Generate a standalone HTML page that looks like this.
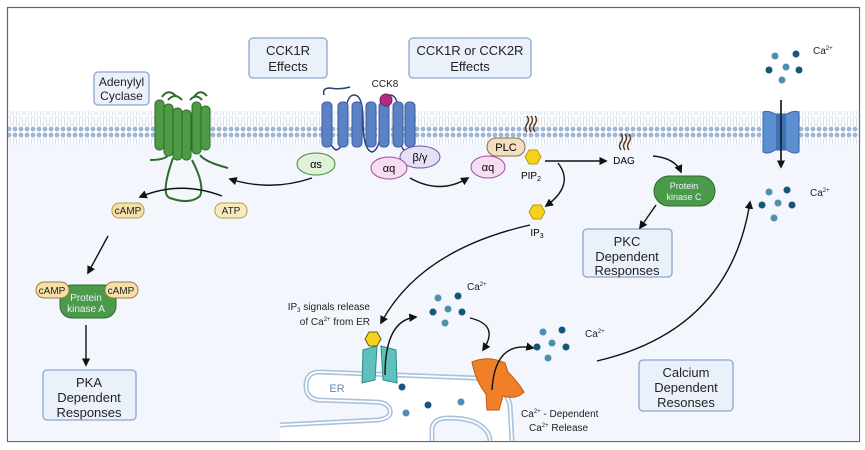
<!DOCTYPE html>
<html><head><meta charset="utf-8"><style>
body{margin:0;background:#fff}
svg{display:block;font-family:"Liberation Sans",Arial,sans-serif}
</style></head><body>
<svg width="865" height="450" viewBox="0 0 865 450" xmlns="http://www.w3.org/2000/svg">
<defs>
<marker id="ah" viewBox="0 0 10 10" refX="8" refY="5" markerWidth="6" markerHeight="6" orient="auto"><path d="M0,0 L10,5 L0,10 z" fill="#111"/></marker>
<pattern id="mem" width="6" height="33" patternUnits="userSpaceOnUse">
<circle cx="3" cy="3" r="2.4" fill="#9fb5d3"/>
<circle cx="3" cy="30" r="2.4" fill="#9fb5d3"/>
<path d="M2,6 L1,16 M4,6 L5,16 M2,17 L1,27 M4,17 L5,27" stroke="#c9d6e8" stroke-width="0.8"/>
</pattern>
</defs>
<rect x="0" y="0" width="865" height="450" fill="#fff"/>
<rect x="7.5" y="7.5" width="852" height="434" fill="#fff" stroke="#666" stroke-width="1.2"/>
<rect x="8" y="145" width="851" height="296" fill="#f3f6fc"/>
<rect x="8" y="111" width="851" height="34" fill="url(#mem)"/>

<!-- ER -->
<path d="M280,425 L378,420 Q392,418 390,410 Q388,402 375,402 L318,400 Q306,398 306,386 Q306,372 320,372 L475,378 Q505,384 510,405 L512,441 L490,441 Q490,432 480,425 Q470,418 448,418 Q434,418 432,428 L432,441 L280,441 Z" fill="#fff"/>
<g fill="none" stroke="#a9c2dc" stroke-width="5">
<path d="M280,425 L378,420 Q392,418 390,410 Q388,402 375,402 L318,400 Q306,398 306,386 Q306,372 320,372 L475,378 Q505,384 510,405 L512,441"/>
<path d="M432,441 L432,428 Q434,418 448,418 Q470,418 480,425 Q490,432 490,441"/>
</g>
<g fill="none" stroke="#fff" stroke-width="1.8">
<path d="M280,425 L378,420 Q392,418 390,410 Q388,402 375,402 L318,400 Q306,398 306,386 Q306,372 320,372 L475,378 Q505,384 510,405 L512,441"/>
<path d="M432,441 L432,428 Q434,418 448,418 Q470,418 480,425 Q490,432 490,441"/>
</g>
<text x="337" y="392" font-size="11" fill="#6a8ab0" text-anchor="middle">ER</text>
<circle cx="402" cy="387" r="3.5" fill="#15577a"/><circle cx="428" cy="405" r="3.5" fill="#15577a"/>
<circle cx="406" cy="413" r="3.5" fill="#4f90ae"/><circle cx="461" cy="402" r="3.5" fill="#4f90ae"/>

<!-- boxes -->
<g fill="#eaf1fb" stroke="#8aa6cf" stroke-width="1.3">
<rect x="249" y="38" width="78" height="40" rx="4"/>
<rect x="409" y="38" width="122" height="40" rx="4"/>
<rect x="94" y="72" width="55" height="33" rx="4"/>
<rect x="583" y="229" width="89" height="48" rx="4"/>
<rect x="43" y="370" width="93" height="50" rx="4"/>
<rect x="639" y="360" width="94" height="51" rx="4"/>
</g>
<g font-size="13" fill="#222" text-anchor="middle">
<text x="288" y="55">CCK1R</text><text x="288" y="71">Effects</text>
<text x="470" y="55">CCK1R or CCK2R</text><text x="470" y="71">Effects</text>
<text x="121.5" y="86" font-size="12">Adenylyl</text><text x="121.5" y="100" font-size="12">Cyclase</text>
<text x="627" y="246">PKC</text><text x="627" y="261">Dependent</text><text x="627" y="275">Responses</text>
<text x="89" y="387">PKA</text><text x="89" y="402">Dependent</text><text x="89" y="417">Responses</text>
<text x="686" y="377">Calcium</text><text x="686" y="392">Dependent</text><text x="686" y="407">Resonses</text>
</g>

<!-- adenylyl cyclase -->
<g stroke="#2e6b2a" stroke-width="2" fill="none">
<path d="M168,155 Q165,160 150,160"/>
<path d="M173,158 Q160,195 170,198 Q190,205 200,196 Q205,185 192,160"/>
<path d="M200,155 Q205,162 228,168"/>
<path d="M162,97 Q168,88 176,96 M168,100 Q175,92 182,100 M194,97 Q200,88 207,96 M190,100 Q196,93 202,100"/>
</g>
<g fill="#4f9a45" stroke="#2e6b2a" stroke-width="1">
<rect x="155" y="100" width="9" height="50" rx="4"/>
<rect x="164" y="104" width="9" height="52" rx="4"/>
<rect x="173" y="108" width="9" height="52" rx="4"/>
<rect x="182" y="110" width="9" height="50" rx="4"/>
<rect x="192" y="102" width="9" height="52" rx="4"/>
<rect x="201" y="106" width="9" height="44" rx="4"/>
</g>

<!-- receptor -->
<path d="M324,95 Q322,88 330,88 Q340,90 350,87" stroke="#2a3f75" stroke-width="1.5" fill="none"/>
<path d="M327,120 Q327,145 336,150 Q345,148 345,125 Q345,95 354,95 Q363,95 363,120 Q363,150 372,152 Q381,150 381,120 Q381,95 390,95 Q399,95 399,120 Q399,150 405,150" stroke="#2a3f75" stroke-width="1.5" fill="none"/>
<g fill="#5a82c4" stroke="#3a5a9c">
<rect x="322" y="102" width="10" height="45" rx="4"/><rect x="338" y="102" width="10" height="45" rx="4"/>
<rect x="352" y="102" width="10" height="45" rx="4"/><rect x="366" y="102" width="10" height="45" rx="4"/>
<rect x="379" y="102" width="10" height="45" rx="4"/><rect x="393" y="102" width="10" height="45" rx="4"/>
<rect x="405" y="102" width="10" height="45" rx="4"/>
</g>
<circle cx="386" cy="100" r="6" fill="#b02c84" stroke="#7a1f5c"/>
<text x="385" y="87" font-size="10" text-anchor="middle" fill="#222">CCK8</text>
<ellipse cx="316" cy="164" rx="19" ry="11" fill="#dff2d8" stroke="#3c8a3a"/>
<text x="316" y="168" font-size="11" text-anchor="middle">αs</text>
<ellipse cx="420" cy="157" rx="20" ry="11" fill="#e6e0f5" stroke="#6b55a6"/>
<text x="420" y="161" font-size="11" text-anchor="middle">β/γ</text>
<ellipse cx="389" cy="168" rx="18" ry="11" fill="#f6def2" stroke="#a64b98"/>
<text x="389" y="172" font-size="11" text-anchor="middle">αq</text>

<!-- IP3R -->
<path d="M363,350 L377,346 L375,380 L362,383 Z" fill="#5fc0bd" stroke="#2e8a88"/>
<path d="M381,346 L396,350 L397,383 L383,380 Z" fill="#5fc0bd" stroke="#2e8a88"/>
<polygon points="365,339 369,332 377,332 381,339 377,346 369,346" fill="#f5d31c" stroke="#6a5a10"/>
<!-- RyR -->
<path d="M472,362 Q488,355 505,363 L508,372 Q518,382 524,392 Q516,400 503,396 L499,410 L487,410 L486,394 Q476,382 472,362 Z" fill="#f07f2a" stroke="#c25a10"/>

<!-- arrows -->
<g stroke="#111" stroke-width="1.4" fill="none" marker-end="url(#ah)">
<path d="M312,178 Q270,192 230,179"/>
<path d="M222,196 Q180,180 140,197"/>
<path d="M108,236 L88,273"/>
<path d="M86,325 L86,365"/>
<path d="M410,178 Q440,195 468,178"/>
<path d="M545,161 L606,161"/>
<path d="M558,163 Q575,185 546,206"/>
<path d="M653,156 Q675,158 681,172"/>
<path d="M656,205 L640,228"/>
<path d="M781,100 L781,167"/>
<path d="M530,225 Q420,250 381,323"/>
<path d="M385,375 Q385,320 416,317"/>
<path d="M470,318 Q500,325 483,350"/>
<path d="M492,390 Q495,340 533,348"/>
<path d="M597,361 Q730,330 750,202"/>
</g>
<g font-size="10" text-anchor="middle" fill="#222">
<rect x="112" y="203" width="32" height="15" rx="7" fill="#f4e0a8" stroke="#b89a4a"/><text x="128" y="214">cAMP</text>
<rect x="215" y="203" width="32" height="15" rx="7" fill="#f7ecc0" stroke="#b89a4a"/><text x="231" y="214">ATP</text>
<rect x="60" y="285" width="56" height="33" rx="12" fill="#4b9a4a" stroke="#2e6b2a"/>
<text x="86" y="301" fill="#eef">Protein</text><text x="86" y="312" fill="#eef">kinase A</text>
<rect x="36" y="282" width="33" height="16" rx="8" fill="#f4e0a8" stroke="#9a7f3a"/><text x="52" y="294">cAMP</text>
<rect x="105" y="282" width="33" height="16" rx="8" fill="#f4e0a8" stroke="#9a7f3a"/><text x="121" y="294">cAMP</text>
</g>

<!-- PLC -->
<ellipse cx="488" cy="167" rx="17" ry="11" fill="#f6def2" stroke="#a64b98"/>
<text x="488" y="171" font-size="11" text-anchor="middle">αq</text>
<rect x="487" y="138" width="38" height="18" rx="9" fill="#f2dfc2" stroke="#8a6b40"/>
<text x="506" y="151" font-size="11" text-anchor="middle">PLC</text>
<path d="M527,132 q-3,-4 0,-8 q3,-4 0,-8 M531,132 q-3,-4 0,-8 q3,-4 0,-8 M535,132 q-3,-4 0,-8 q3,-4 0,-8" stroke="#5a3a1a" stroke-width="1.5" fill="none"/>
<polygon points="525,157 529,150 537,150 541,157 537,164 529,164" fill="#f5d31c" stroke="#b89a10"/>
<text x="531" y="179" font-size="10" text-anchor="middle">PIP<tspan font-size="7" dy="2">2</tspan></text>
<path d="M621,150 q-3,-4 0,-8 q3,-4 0,-8 M625,150 q-3,-4 0,-8 q3,-4 0,-8 M629,150 q-3,-4 0,-8 q3,-4 0,-8" stroke="#5a3a1a" stroke-width="1.5" fill="none"/>
<text x="624" y="164" font-size="10" text-anchor="middle">DAG</text>
<polygon points="529,212 533,205 541,205 545,212 541,219 533,219" fill="#f5d31c" stroke="#b89a10"/>
<text x="537" y="236" font-size="10" text-anchor="middle">IP<tspan font-size="7" dy="2">3</tspan></text>
<rect x="654" y="176" width="61" height="30" rx="15" fill="#4b9a4a" stroke="#2e6b2a"/>
<text x="684" y="189" font-size="9" text-anchor="middle" fill="#eef">Protein</text>
<text x="684" y="200" font-size="9" text-anchor="middle" fill="#eef">kinase C</text>

<!-- Ca channel -->
<path d="M763,112 Q768,110 775,114 L787,114 Q794,110 799,112 L799,152 Q794,155 787,150 L775,150 Q768,155 763,152 Z" fill="#5b8fd0" stroke="#3a66a8"/>
<rect x="776" y="114" width="10" height="36" fill="#3f71b5"/>
<line x1="781" y1="100" x2="781" y2="160" stroke="#111" stroke-width="1.4"/>

<!-- Ca dots -->
<g>
<circle cx="775" cy="56" r="3.5" fill="#4f90ae"/><circle cx="796" cy="54" r="3.5" fill="#15577a"/>
<circle cx="769" cy="70" r="3.5" fill="#15577a"/><circle cx="786" cy="67" r="3.5" fill="#4f90ae"/>
<circle cx="799" cy="70" r="3.5" fill="#15577a"/><circle cx="782" cy="80" r="3.5" fill="#4f90ae"/>
<circle cx="769" cy="192" r="3.5" fill="#4f90ae"/><circle cx="787" cy="190" r="3.5" fill="#15577a"/>
<circle cx="762" cy="205" r="3.5" fill="#15577a"/><circle cx="778" cy="203" r="3.5" fill="#4f90ae"/>
<circle cx="792" cy="205" r="3.5" fill="#15577a"/><circle cx="774" cy="218" r="3.5" fill="#4f90ae"/>
<circle cx="438" cy="298" r="3.5" fill="#4f90ae"/><circle cx="458" cy="296" r="3.5" fill="#15577a"/>
<circle cx="433" cy="312" r="3.5" fill="#15577a"/><circle cx="448" cy="309" r="3.5" fill="#4f90ae"/>
<circle cx="462" cy="312" r="3.5" fill="#15577a"/><circle cx="445" cy="323" r="3.5" fill="#4f90ae"/>
<circle cx="543" cy="332" r="3.5" fill="#4f90ae"/><circle cx="562" cy="330" r="3.5" fill="#15577a"/>
<circle cx="537" cy="347" r="3.5" fill="#15577a"/><circle cx="552" cy="343" r="3.5" fill="#4f90ae"/>
<circle cx="566" cy="347" r="3.5" fill="#15577a"/><circle cx="548" cy="358" r="3.5" fill="#4f90ae"/>
</g>
<g font-size="10" fill="#222">
<text x="813" y="54">Ca<tspan font-size="6" dy="-4">2+</tspan></text>
<text x="810" y="196">Ca<tspan font-size="6" dy="-4">2+</tspan></text>
<text x="467" y="290">Ca<tspan font-size="6" dy="-4">2+</tspan></text>
<text x="585" y="337">Ca<tspan font-size="6" dy="-4">2+</tspan></text>
<text x="370" y="310" text-anchor="end">IP<tspan font-size="6" dy="2">3</tspan><tspan dy="-2"> signals release</tspan></text>
<text x="370" y="325" text-anchor="end">of Ca<tspan font-size="6" dy="-4">2+</tspan><tspan dy="4"> from ER</tspan></text>
<text x="521" y="417">Ca<tspan font-size="6" dy="-4">2+</tspan><tspan dy="4"> - Dependent</tspan></text>
<text x="529" y="431">Ca<tspan font-size="6" dy="-4">2+</tspan><tspan dy="4"> Release</tspan></text>
</g>
</svg>
</body></html>
